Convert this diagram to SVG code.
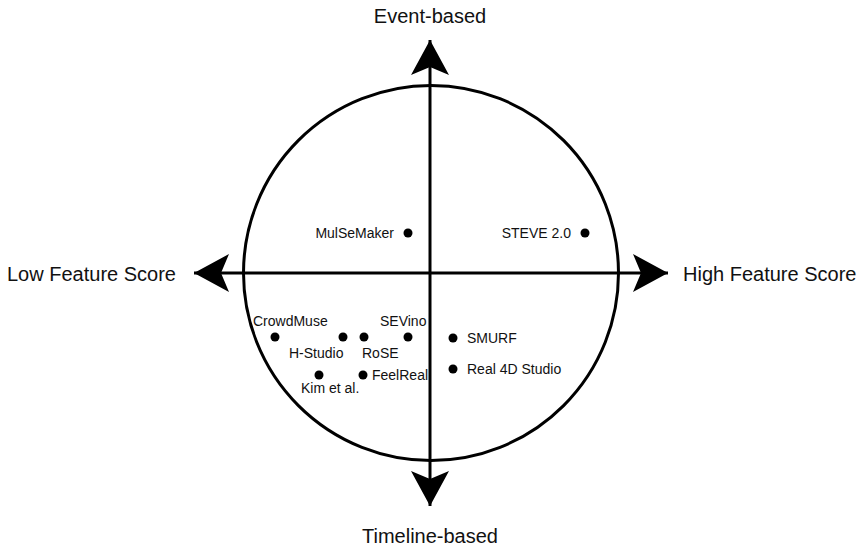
<svg xmlns="http://www.w3.org/2000/svg" width="858" height="546" viewBox="0 0 858 546">
<style>
.axis{stroke:#000;stroke-width:3;fill:none}
.lbl{font-family:"Liberation Sans",Arial,sans-serif;font-size:14px;fill:#111}
.ax{font-family:"Liberation Sans",Arial,sans-serif;font-size:20px;fill:#111}
.dot{fill:#000}
</style>
<defs>
<marker id="ah" viewBox="-36 -20 37 40" refX="0" refY="0" markerWidth="37" markerHeight="40" markerUnits="userSpaceOnUse" orient="auto">
<path d="M0,0 L-35,-19 L-27,0 L-35,19 Z" fill="#000"/>
</marker>
</defs>
<rect width="858" height="546" fill="#fff"/>
<g id="frame">
<circle cx="431" cy="273" r="187.5" class="axis"/>
</g>
<g id="connectors">
<line x1="430" y1="273" x2="430" y2="40" class="axis" marker-end="url(#ah)"/>
<line x1="430" y1="273" x2="430" y2="506" class="axis" marker-end="url(#ah)"/>
<line x1="430" y1="273" x2="194" y2="273" class="axis" marker-end="url(#ah)"/>
<line x1="430" y1="273" x2="668" y2="273" class="axis" marker-end="url(#ah)"/>
</g>
<g id="axis-labels">
<text class="ax" x="430" y="23" text-anchor="middle">Event-based</text>
<text class="ax" x="430" y="543" text-anchor="middle">Timeline-based</text>
<text class="ax" x="7" y="281">Low Feature Score</text>
<text class="ax" x="683" y="281">High Feature Score</text>
</g>
<g id="MulSeMaker"><circle class="dot" cx="408" cy="233" r="4.5"/><text class="lbl" x="394" y="238" text-anchor="end">MulSeMaker</text></g>
<g id="STEVE"><circle class="dot" cx="585" cy="233" r="4.5"/><text class="lbl" x="571" y="238" text-anchor="end">STEVE 2.0</text></g>
<g id="CrowdMuse"><circle class="dot" cx="275" cy="337" r="4.5"/><text class="lbl" x="253" y="326">CrowdMuse</text></g>
<g id="HStudio"><circle class="dot" cx="343" cy="337" r="4.5"/><text class="lbl" x="289" y="358">H-Studio</text></g>
<g id="RoSE"><circle class="dot" cx="364" cy="337" r="4.5"/><text class="lbl" x="362" y="358">RoSE</text></g>
<g id="SEVino"><circle class="dot" cx="408" cy="337" r="4.5"/><text class="lbl" x="380" y="326">SEVino</text></g>
<g id="SMURF"><circle class="dot" cx="453" cy="338" r="4.5"/><text class="lbl" x="467" y="343">SMURF</text></g>
<g id="Real4D"><circle class="dot" cx="453" cy="369" r="4.5"/><text class="lbl" x="467" y="374">Real 4D Studio</text></g>
<g id="FeelReal"><circle class="dot" cx="363" cy="375" r="4.5"/><text class="lbl" x="372" y="380">FeelReal</text></g>
<g id="Kim"><circle class="dot" cx="319" cy="375" r="4.5"/><text class="lbl" x="301" y="393">Kim et al.</text></g>
</svg>
